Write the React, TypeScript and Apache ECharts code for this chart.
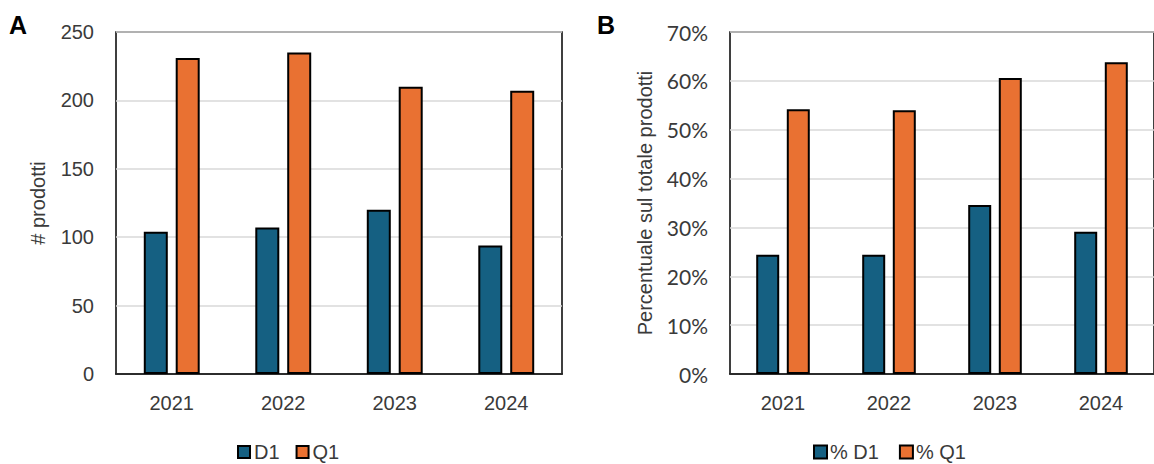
import React, { useEffect, useRef } from "react";
import * as echarts from "echarts";

const years = ["2021", "2022", "2023", "2024"];
const countD1 = [104, 107, 120, 94];
const countQ1 = [231, 235, 210, 207];
const pctD1 = [0.244, 0.244, 0.346, 0.291];
const pctQ1 = [0.542, 0.54, 0.606, 0.638];
const leftLegend = ["D1", "Q1"];
const rightLegend = ["% D1", "% Q1"];

const BLUE = "#156082";
const ORANGE = "#E97132";
const TEXT = "#3a3a3a";
const ARIAL = "Liberation Sans, Arial, sans-serif";

export default function App() {
  const ref = useRef<HTMLDivElement>(null);
  useEffect(() => {
    document.body.style.margin = "0";
    const chart = echarts.init(ref.current!, undefined, { renderer: "svg" });
    const xAxisBase = (gridIndex: number) => ({
      type: "category" as const,
      gridIndex,
      data: years,
      axisTick: { show: false },
      axisLine: { lineStyle: { color: "#000", width: 1.5 } },
      axisLabel: { color: TEXT, fontSize: 20, fontFamily: ARIAL, margin: 19 },
    });
    const barStyle = (color: string) => ({
      color,
      borderColor: "#000",
      borderWidth: 2,
    });
    chart.setOption({
      animation: false,
      backgroundColor: "#fff",
      graphic: [
        { type: "text", left: 9, top: 12, style: { text: "A", fontSize: 25, fontWeight: "bold", fontFamily: ARIAL, fill: "#000" } },
        { type: "text", left: 597, top: 12, style: { text: "B", fontSize: 25, fontWeight: "bold", fontFamily: ARIAL, fill: "#000" } },
      ],
      grid: [
        { left: 116, top: 32, width: 446, height: 342, show: true, borderColor: "#000", borderWidth: 1.5, backgroundColor: "transparent" },
        { left: 730, top: 32, width: 432, height: 342, show: true, borderColor: "#000", borderWidth: 1.5, backgroundColor: "transparent" },
      ],
      legend: [
        {
          data: leftLegend,
          left: 237,
          top: 441,
          padding: 0,
          itemWidth: 12,
          itemHeight: 12,
          itemGap: 16,
          icon: "rect",
          textStyle: { color: TEXT, fontSize: 20, fontFamily: ARIAL, lineHeight: 22, padding: [0, 0, 0, -1] },
        },
        {
          data: rightLegend,
          left: 813,
          top: 441,
          padding: 0,
          itemWidth: 13,
          itemHeight: 13,
          itemGap: 20,
          icon: "rect",
          textStyle: { color: TEXT, fontSize: 20, fontFamily: ARIAL, lineHeight: 22, padding: [0, 0, 0, -2] },
        },
      ],
      xAxis: [xAxisBase(0), xAxisBase(1)],
      yAxis: [
        {
          type: "value",
          gridIndex: 0,
          min: 0,
          max: 250,
          interval: 50,
          name: "# prodotti",
          nameLocation: "middle",
          nameGap: 68,
          nameTextStyle: { color: TEXT, fontSize: 20, fontFamily: ARIAL },
          axisLine: { show: false },
          axisTick: { show: false },
          axisLabel: { color: TEXT, fontSize: 20, fontFamily: ARIAL, margin: 22 },
          splitLine: { lineStyle: { color: "#d9d9d9", width: 1.5 } },
        },
        {
          type: "value",
          gridIndex: 1,
          min: 0,
          max: 0.7,
          interval: 0.1,
          name: "Percentuale sul totale prodotti",
          nameLocation: "middle",
          nameGap: 75,
          nameTextStyle: { color: TEXT, fontSize: 20, fontFamily: ARIAL },
          axisLine: { show: false },
          axisTick: { show: false },
          axisLabel: {
            color: TEXT,
            fontSize: 21,
            fontFamily: "Lato, sans-serif",
            margin: 22,
            formatter: (v: number) => Math.round(v * 100) + "%",
          },
          splitLine: { lineStyle: { color: "#d9d9d9", width: 1.5 } },
        },
      ],
      series: [
        { name: "D1", type: "bar", xAxisIndex: 0, yAxisIndex: 0, data: countD1, barWidth: 24, barGap: "33%", itemStyle: barStyle(BLUE) },
        { name: "Q1", type: "bar", xAxisIndex: 0, yAxisIndex: 0, data: countQ1, barWidth: 24, barGap: "33%", itemStyle: barStyle(ORANGE) },
        { name: "% D1", type: "bar", xAxisIndex: 1, yAxisIndex: 1, data: pctD1, barWidth: 23, barGap: "33%", itemStyle: barStyle(BLUE) },
        { name: "% Q1", type: "bar", xAxisIndex: 1, yAxisIndex: 1, data: pctQ1, barWidth: 23, barGap: "33%", itemStyle: barStyle(ORANGE) },
      ],
    });
    return () => chart.dispose();
  }, []);
  return <div ref={ref} style={{ width: 1154, height: 464 }} />;
}
